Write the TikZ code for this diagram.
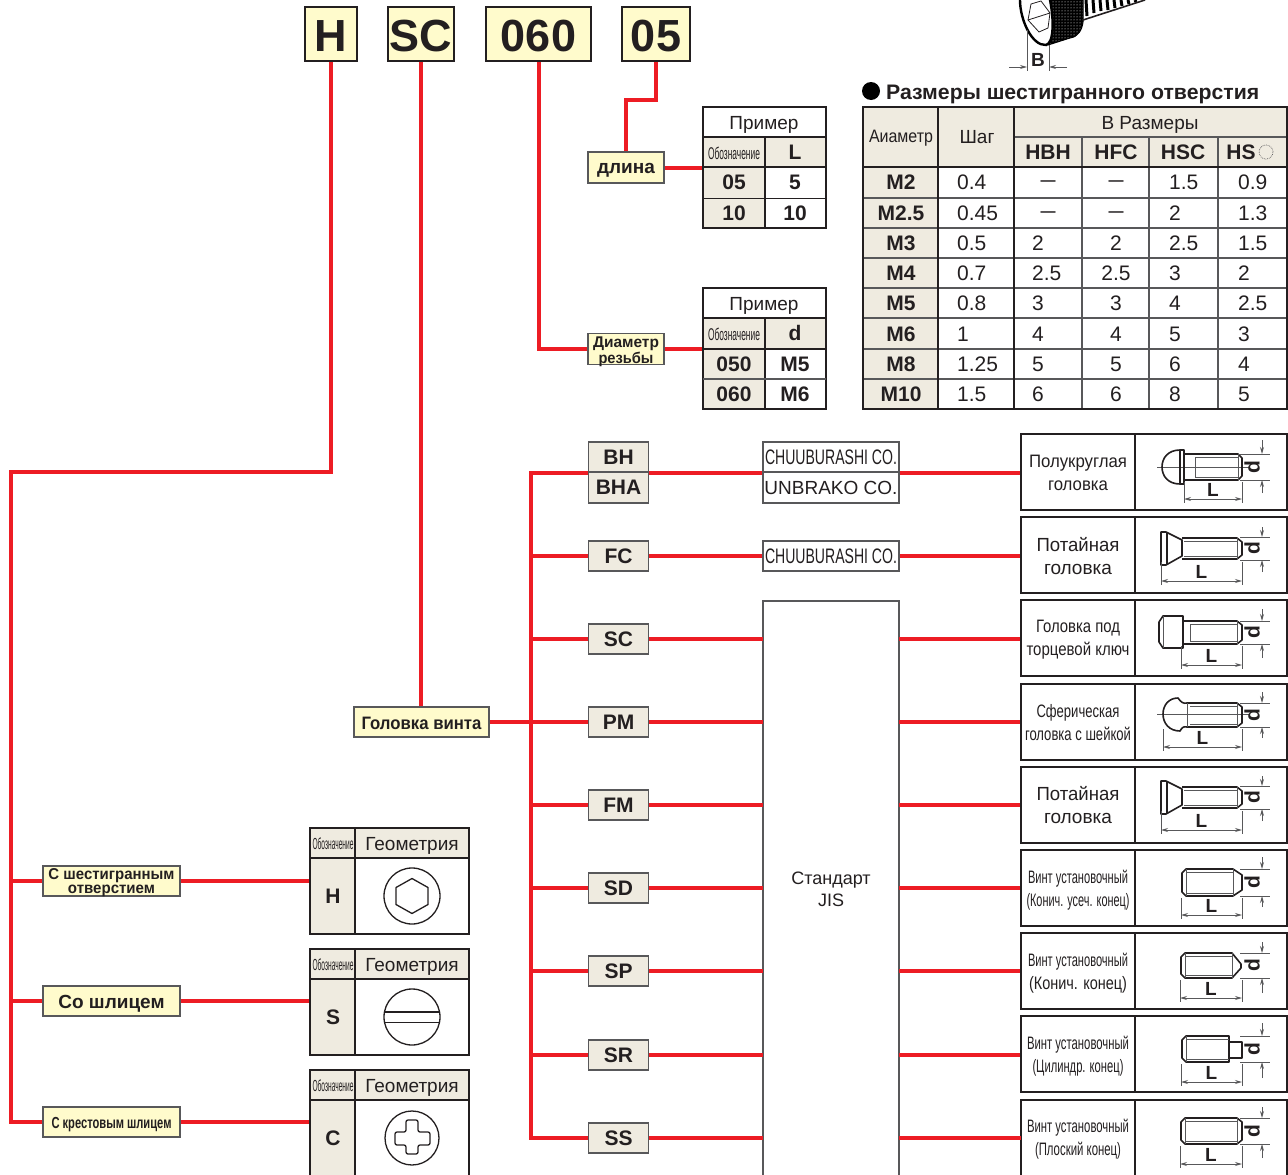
\documentclass[tikz,border=0pt]{standalone}
\usepackage{fontspec}
\setmainfont{Liberation Sans}
\usetikzlibrary{arrows.meta,patterns}
\definecolor{wirered}{HTML}{ED1C24}
\definecolor{inkdark}{HTML}{231F20}
\definecolor{beige}{HTML}{EFEBE0}
\definecolor{paleyellow}{HTML}{FFFBCC}
\definecolor{framegray}{HTML}{58585A}
\newcommand{\fitw}[2]{\resizebox{#1pt}{\height}{#2}}
\newcommand{\sizefont}[2]{\fontsize{#1}{#2}\selectfont}
\newcommand{\lowered}[2]{\raisebox{-#1pt}[\height][\depth]{#2}}
\tikzset{
	wire/.style={line width=4pt,color=wirered},
	heavy/.style={line width=2.6pt,color=inkdark},
	medium/.style={line width=1.6pt,color=framegray},
	fine/.style={line width=1pt,color=inkdark},
	topbox/.style={draw=inkdark,line width=2.4pt,fill=paleyellow,inner sep=0pt,text=inkdark,font=\sizefont{45}{50}\bfseries},
	labelbox/.style={draw=framegray,line width=1.6pt,fill=paleyellow,inner sep=0pt,align=center,text=inkdark},
	codebox/.style={draw=framegray,line width=1.6pt,fill=beige,inner sep=0pt,minimum width=60pt,minimum height=30pt,text=inkdark,font=\sizefont{21}{24}\bfseries},
	makerbox/.style={draw=framegray,line width=1.3pt,fill=white,inner sep=0pt,minimum width=136pt,minimum height=30pt,text=inkdark},
	cellbold/.style={inner sep=0pt,text=inkdark,font=\sizefont{21}{24}\bfseries},
	cellplain/.style={inner sep=0pt,text=inkdark,font=\sizefont{21}{24}},
	cellnum/.style={cellplain,anchor=west},
	celldash/.style={inner sep=0pt,text=inkdark,font=\sizefont{15}{18}\bfseries},
	cellhead/.style={inner sep=0pt,text=inkdark,font=\sizefont{19}{22}},
	desctext/.style={inner sep=0pt,align=center,text=inkdark,font=\sizefont{18}{23}},
	descframe/.style={draw=inkdark,line width=2.2pt,inner sep=0pt,minimum width=114pt,minimum height=76pt},
	iconframe/.style={draw=inkdark,line width=2.2pt,inner sep=0pt,minimum width=152pt,minimum height=76pt},
	screw/.style={line width=1.6pt,color=inkdark,line join=round},
	thread/.style={line width=.6pt,color=framegray},
	dimline/.style={line width=.9pt,color=framegray},
	dimmark/.style={inner sep=0pt,text=inkdark,font=\sizefont{19}{22}\bfseries},
}
\newcommand{\dimmarks}[7]{%
	\draw [dimline] (1240,#3) -- (1270,#3) (1240,#4) -- (1270,#4);
	\draw [dimline,-{Stealth[length=7pt,width=4pt]}] (1262,#5) -- (1262,#3);
	\draw [dimline,-{Stealth[length=7pt,width=4pt]}] (1262,#6) -- (1262,#4);
	\draw [dimline] (#2,#4+2) -- (#2,#7+4) (1242,#4+2) -- (1242,#7+4);
	\draw [dimline,{Stealth[length=7pt,width=4pt]}-{Stealth[length=7pt,width=4pt]}] (#2,#7) -- (1242,#7);
	\node [dimmark] (#1L) at ({(#2+1242)/2},#7-9) {L};
	\node [dimmark,rotate=90,font=\sizefont{21}{24}\bfseries] (#1d) at (1252,{(#3+#4)/2}) {d};
}
\newcommand{\flatscrew}[2]{%
	\begin{scope}[shift={(0,#2)}]
		\draw [screw] (1161,532) -- (1166,532) -- (1182,540) -- (1182,556) -- (1166,565) -- (1161,565) -- cycle;
		\draw [screw] (1167,533) -- (1167,564);
		\draw [screw] (1182,538) -- (1237,538) -- (1242,542) -- (1242,555) -- (1237,559) -- (1182,559);
		\draw [thread] (1184,541) -- (1237,541) (1184,556) -- (1237,556) (1237,538) -- (1237,559);
		\dimmarks{#1}{1161}{537}{560}{527}{572}{581}
	\end{scope}
}
\begin{document}
\begin{tikzpicture}[x=1pt,y=-1pt]
	\useasboundingbox (0,0) rectangle (1288,1175);

	% code letters on top
	\node [topbox,minimum width=52pt,minimum height=54pt] (boxH) at (331,34) {\lowered{2}{H}};
	\node [topbox,minimum width=66pt,minimum height=54pt] (boxSC) at (421,34) {\lowered{2}{SC}};
	\node [topbox,minimum width=105pt,minimum height=54pt] (boxDia) at (538.5,34) {\lowered{2}{060}};
	\node [topbox,minimum width=68pt,minimum height=54pt] (boxLen) at (656,34) {\lowered{2}{05}};

	% yellow labels
	\node [labelbox,minimum width=76pt,minimum height=31pt,font=\sizefont{19}{22}\bfseries] (lenLabel) at (626,167.5) {\lowered{3}{длина}};
	\node [labelbox,minimum width=76pt,minimum height=31pt,font=\sizefont{15.5}{14.5}\bfseries] (diaLabel) at (626,349) {\fitw{66}{\lowered{3}{Диаметр}}\\\fitw{55}{\lowered{3}{резьбы}}};
	\node [labelbox,minimum width=135pt,minimum height=30pt,font=\sizefont{18}{21}\bfseries] (headLabel) at (421.5,722) {\fitw{120}{\lowered{1}{Головка винта}}};
	\node [labelbox,minimum width=137pt,minimum height=30pt,font=\sizefont{15.7}{14}\bfseries] (holeLabel) at (111.5,881) {\fitw{126}{\lowered{2}{С шестигранным}}\\\fitw{87}{\lowered{2}{отверстием}}};
	\node [labelbox,minimum width=137pt,minimum height=30pt,font=\sizefont{19}{22}\bfseries] (slotLabel) at (111.5,1001) {\lowered{3}{Со шлицем}};
	\node [labelbox,minimum width=137pt,minimum height=30pt,font=\sizefont{16}{19}\bfseries] (crossLabel) at (111.5,1122) {\lowered{3}{\fitw{120}{С крестовым шлицем}}};

	% head codes
	\node [codebox] (codeBH) at (618.5,457) {BH};
	\node [codebox,minimum height=31pt] (codeBHA) at (618.5,487.5) {BHA};
	\node [codebox] (codeFC) at (618.5,556) {FC};
	\node [codebox] (codeSC) at (618.5,639) {SC};
	\node [codebox] (codePM) at (618.5,722) {PM};
	\node [codebox] (codeFM) at (618.5,805) {FM};
	\node [codebox] (codeSD) at (618.5,888) {SD};
	\node [codebox] (codeSP) at (618.5,971) {SP};
	\node [codebox] (codeSR) at (618.5,1055) {SR};
	\node [codebox] (codeSS) at (618.5,1138) {SS};

	% makers and standard
	\node [makerbox,font=\sizefont{21}{24}] (makerChuA) at (831,457) {\fitw{132}{CHUUBURASHI CO.}};
	\node [makerbox,minimum height=31pt,font=\sizefont{19}{22}] (makerUnb) at (831,487.5) {UNBRAKO CO.};
	\node [makerbox,font=\sizefont{21}{24}] (makerChuB) at (831,556) {\fitw{132}{CHUUBURASHI CO.}};
	\coordinate (jisL) at (763,601);
	\coordinate (jisR) at (899,601);
	\draw [color=framegray,line width=1.3pt] (763,1175) -- (jisL) -- (jisR) -- (899,1175);
	\node [inner sep=0pt,align=center,text=inkdark,font=\sizefont{18}{22}] (jisText) at (831,889) {Стандарт\\JIS};

	% right column frames
	\node [descframe] (descBH) at (1078,472) {};
	\node [descframe] (descFC) at (1078,555) {};
	\node [descframe] (descSC) at (1078,638) {};
	\node [descframe] (descPM) at (1078,722) {};
	\node [descframe] (descFM) at (1078,805) {};
	\node [descframe] (descSD) at (1078,888) {};
	\node [descframe] (descSP) at (1078,971) {};
	\node [descframe] (descSR) at (1078,1054) {};
	\draw [heavy,line width=2.2pt] (1021,1175) |- (1135,1100) -- (1135,1175) (1135,1100) -| (1287,1175);
	\coordinate (descSS) at (1021,1138);
	\node [iconframe] (iconBH) at (1211,472) {};
	\node [iconframe] (iconFC) at (1211,555) {};
	\node [iconframe] (iconSC) at (1211,638) {};
	\node [iconframe] (iconPM) at (1211,722) {};
	\node [iconframe] (iconFM) at (1211,805) {};
	\node [iconframe] (iconSD) at (1211,888) {};
	\node [iconframe] (iconSP) at (1211,971) {};
	\node [iconframe] (iconSR) at (1211,1054) {};

	\node [desctext] (textBH) at (1078,473) {\fitw{98}{Полукруглая}\\\fitw{60}{головка}};
	\node [desctext,font=\sizefont{19}{23}] (textFC) at (1078,556) {\fitw{83}{Потайная}\\\fitw{68}{головка}};
	\node [desctext] (textSC) at (1078,640) {\fitw{84}{Головка под}\\\fitw{103}{торцевой ключ}};
	\node [desctext] (textPM) at (1078,723) {\fitw{83}{Сферическая}\\\fitw{106}{головка с шейкой}};
	\node [desctext,font=\sizefont{19}{23}] (textFM) at (1078,805) {\fitw{83}{Потайная}\\\fitw{68}{головка}};
	\node [desctext] (textSD) at (1078,890) {\fitw{100}{Винт установочный}\\\fitw{103}{(Конич. усеч. конец)}};
	\node [desctext] (textSP) at (1078,973) {\fitw{100}{Винт установочный}\\\fitw{98}{(Конич. конец)}};
	\node [desctext] (textSR) at (1078,1056) {\fitw{102}{Винт установочный}\\\fitw{91}{(Цилиндр. конец)}};
	\node [desctext] (textSS) at (1078,1139) {\fitw{102}{Винт установочный}\\\fitw{86}{(Плоский конец)}};

	% connectors
	\coordinate (leftTrunk) at (11,472);
	\draw [wire] (boxH.south) |- (leftTrunk) |- (crossLabel.west);
	\draw [wire] (holeLabel.west) -- (holeLabel.west -| leftTrunk);
	\draw [wire] (slotLabel.west) -- (slotLabel.west -| leftTrunk);
	\coordinate (holeTable) at (310,881);
	\coordinate (slotTable) at (310,1001);
	\coordinate (crossTable) at (310,1122);
	\draw [wire] (holeLabel.east) -- (holeTable);
	\draw [wire] (slotLabel.east) -- (slotTable);
	\draw [wire] (crossLabel.east) -- (crossTable);
	\draw [wire] (boxSC.south) -- (boxSC.south |- headLabel.north);
	\draw [wire] (boxDia.south) |- (diaLabel.west);
	\coordinate (lenBend) at (626,100);
	\draw [wire] (boxLen.south) |- (lenBend) -- (lenLabel.north);
	\coordinate (lenTable) at (703,167.5);
	\coordinate (diaTable) at (703,349);
	\draw [wire] (lenLabel.east) -- (lenTable);
	\draw [wire] (diaLabel.east) -- (diaTable);
	\coordinate (codeTrunk) at (531,472);
	\draw [wire] (codeBH.south west) -- (codeBH.south west -| codeTrunk) |- (codeSS.west);
	\draw [wire] (headLabel.east) -- (headLabel.east -| codeTrunk);
	\draw [wire] (codeFC.west) -- (codeFC.west -| codeTrunk);
	\draw [wire] (codeSC.west) -- (codeSC.west -| codeTrunk);
	\draw [wire] (codePM.west) -- (codePM.west -| codeTrunk);
	\draw [wire] (codeFM.west) -- (codeFM.west -| codeTrunk);
	\draw [wire] (codeSD.west) -- (codeSD.west -| codeTrunk);
	\draw [wire] (codeSP.west) -- (codeSP.west -| codeTrunk);
	\draw [wire] (codeSR.west) -- (codeSR.west -| codeTrunk);
	\draw [wire] (codeBH.south east) -- (codeBH.south east -| makerChuA.west);
	\draw [wire] (codeBH.south east -| makerChuA.east) -- (codeBH.south east -| descBH.west);
	\draw [wire] (codeFC.east) -- (makerChuB.west);
	\draw [wire] (makerChuB.east) -- (makerChuB.east -| descFC.west);
	\draw [wire] (codeSC.east) -- (codeSC.east -| jisL);
	\draw [wire] (codePM.east) -- (codePM.east -| jisL);
	\draw [wire] (codeFM.east) -- (codeFM.east -| jisL);
	\draw [wire] (codeSD.east) -- (codeSD.east -| jisL);
	\draw [wire] (codeSP.east) -- (codeSP.east -| jisL);
	\draw [wire] (codeSR.east) -- (codeSR.east -| jisL);
	\draw [wire] (codeSS.east) -- (codeSS.east -| jisL);
	\draw [wire] (codeSC.east -| jisR) -- (codeSC.east -| descSC.west);
	\draw [wire] (codePM.east -| jisR) -- (codePM.east -| descPM.west);
	\draw [wire] (codeFM.east -| jisR) -- (codeFM.east -| descFM.west);
	\draw [wire] (codeSD.east -| jisR) -- (codeSD.east -| descSD.west);
	\draw [wire] (codeSP.east -| jisR) -- (codeSP.east -| descSP.west);
	\draw [wire] (codeSR.east -| jisR) -- (codeSR.east -| descSR.west);
	\draw [wire] (codeSS.east -| jisR) -- (descSS);

	% length example
	\fill [beige] (703,137) rectangle (826,167) (703,167) rectangle (765,228);
	\draw [heavy] (703,107) rectangle (826,228) (703,137) -- (826,137) (703,167) -- (826,167) (765,137) -- (765,228);
	\draw [fine] (703,198) -- (826,198);
	\node [cellhead] (lenHead) at (764,125) {Пример};
	\node [cellhead,font=\sizefont{17}{20}] (lenMark) at (734,153) {\fitw{52}{Обозначение}};
	\node [cellbold] (lenSym) at (795,152) {L};
	\node [cellbold] (lenCodeA) at (734,182) {05};
	\node [cellbold] (lenValA) at (795,182) {5};
	\node [cellbold] (lenCodeB) at (734,213) {10};
	\node [cellbold] (lenValB) at (795,213) {10};

	% thread example
	\fill [beige] (703,318) rectangle (826,349) (703,349) rectangle (765,409);
	\draw [heavy] (703,288) rectangle (826,409) (703,318) -- (826,318) (703,349) -- (826,349) (765,318) -- (765,409);
	\draw [medium] (703,379) -- (826,379);
	\node [cellhead] (diaHead) at (764,306) {Пример};
	\node [cellhead,font=\sizefont{17}{20}] (diaMark) at (734,334) {\fitw{52}{Обозначение}};
	\node [cellbold] (diaSym) at (795,333) {d};
	\node [cellbold] (diaCodeA) at (734,364) {050};
	\node [cellbold] (diaValA) at (795,364) {M5};
	\node [cellbold] (diaCodeB) at (734,394) {060};
	\node [cellbold] (diaValB) at (795,394) {M6};

	% hexagon socket table
	\fill (871,91) circle (9pt);
	\node [inner sep=0pt,anchor=west,text=inkdark,font=\sizefont{21}{24}\bfseries] (sizeTitle) at (886,94) {\fitw{373}{Размеры шестигранного отверстия}};
	\fill [beige] (863,107) rectangle (1287,167) (863,167) rectangle (938,409);
	\draw [medium] (1014,137) -- (1287,137);
	\draw [medium] (863,198) -- (1287,198) (863,228) -- (1287,228) (863,258) -- (1287,258) (863,288) -- (1287,288) (863,318) -- (1287,318) (863,349) -- (1287,349) (863,379) -- (1287,379);
	\draw [medium,line width=1.3pt] (1082,137) -- (1082,409) (1149,137) -- (1149,409) (1218,137) -- (1218,409);
	\draw [heavy] (863,107) rectangle (1287,409) (938,107) -- (938,409) (1014,107) -- (1014,409) (863,167) -- (1287,167);
	\node [cellhead,font=\sizefont{18}{21}] (headDia) at (901,138) {\fitw{64}{Аиаметр}};
	\node [cellhead] (headPitch) at (977,137) {Шаг};
	\node [cellhead] (headB) at (1150,124.5) {В Размеры};
	\node [cellbold] (headHBH) at (1048,152) {HBH};
	\node [cellbold] (headHFC) at (1116,152) {HFC};
	\node [cellbold] (headHSC) at (1183,152) {HSC};
	\node [cellbold] (headHS) at (1241,152) {HS};
	\draw [line width=.7pt,color=framegray,densely dotted] (1266,152) circle (7pt);

	\node [cellbold] (sizeA) at (901,182) {M2}; \node [cellnum] (pitchA) at (957,182) {0.4}; \node [celldash] (hbhA) at (1048,183) {—}; \node [celldash] (hfcA) at (1116,183) {—}; \node [cellnum] (hscA) at (1169,182) {1.5}; \node [cellnum] (hsoA) at (1238,182) {0.9};
	\node [cellbold] (sizeB) at (901,213) {M2.5}; \node [cellnum] (pitchB) at (957,213) {0.45}; \node [celldash] (hbhB) at (1048,214) {—}; \node [celldash] (hfcB) at (1116,214) {—}; \node [cellnum] (hscB) at (1169,213) {2}; \node [cellnum] (hsoB) at (1238,213) {1.3};
	\node [cellbold] (sizeC) at (901,243) {M3}; \node [cellnum] (pitchC) at (957,243) {0.5}; \node [cellnum] (hbhC) at (1032,243) {2}; \node [cellplain] (hfcC) at (1116,243) {2}; \node [cellnum] (hscC) at (1169,243) {2.5}; \node [cellnum] (hsoC) at (1238,243) {1.5};
	\node [cellbold] (sizeD) at (901,273) {M4}; \node [cellnum] (pitchD) at (957,273) {0.7}; \node [cellnum] (hbhD) at (1032,273) {2.5}; \node [cellplain] (hfcD) at (1116,273) {2.5}; \node [cellnum] (hscD) at (1169,273) {3}; \node [cellnum] (hsoD) at (1238,273) {2};
	\node [cellbold] (sizeE) at (901,303) {M5}; \node [cellnum] (pitchE) at (957,303) {0.8}; \node [cellnum] (hbhE) at (1032,303) {3}; \node [cellplain] (hfcE) at (1116,303) {3}; \node [cellnum] (hscE) at (1169,303) {4}; \node [cellnum] (hsoE) at (1238,303) {2.5};
	\node [cellbold] (sizeF) at (901,334) {M6}; \node [cellnum] (pitchF) at (957,334) {1}; \node [cellnum] (hbhF) at (1032,334) {4}; \node [cellplain] (hfcF) at (1116,334) {4}; \node [cellnum] (hscF) at (1169,334) {5}; \node [cellnum] (hsoF) at (1238,334) {3};
	\node [cellbold] (sizeG) at (901,364) {M8}; \node [cellnum] (pitchG) at (957,364) {1.25}; \node [cellnum] (hbhG) at (1032,364) {5}; \node [cellplain] (hfcG) at (1116,364) {5}; \node [cellnum] (hscG) at (1169,364) {6}; \node [cellnum] (hsoG) at (1238,364) {4};
	\node [cellbold] (sizeH) at (901,394) {M10}; \node [cellnum] (pitchH) at (957,394) {1.5}; \node [cellnum] (hbhH) at (1032,394) {6}; \node [cellplain] (hfcH) at (1116,394) {6}; \node [cellnum] (hscH) at (1169,394) {8}; \node [cellnum] (hsoH) at (1238,394) {5};

	% screw tip tables
	\fill [beige] (310,828) rectangle (469,858) (310,858) rectangle (355,934);
	\draw [heavy] (310,828) rectangle (469,934) (310,858) -- (469,858) (355,828) -- (355,934);
	\node [cellhead,font=\sizefont{16}{19}] (holeMark) at (333,844) {\fitw{41}{Обозначение}};
	\node [cellhead] (holeGeo) at (412,845.5) {Геометрия};
	\node [cellbold] (holeCode) at (333,896) {H};
	\draw [screw,line width=1.3pt] (412,896) circle (28pt);
	\draw [screw,line width=1.3pt] (412,878.5) -- (428,887.5) -- (428,904.5) -- (412,913.5) -- (396,904.5) -- (396,887.5) -- cycle;

	\fill [beige] (310,949) rectangle (469,979) (310,979) rectangle (355,1055);
	\draw [heavy] (310,949) rectangle (469,1055) (310,979) -- (469,979) (355,949) -- (355,1055);
	\node [cellhead,font=\sizefont{16}{19}] (slotMark) at (333,965) {\fitw{41}{Обозначение}};
	\node [cellhead] (slotGeo) at (412,966.5) {Геометрия};
	\node [cellbold] (slotCode) at (333,1017) {S};
	\draw [screw,line width=1.3pt] (412,1017) circle (28pt);
	\draw [screw,line width=1.8pt] (385,1012) -- (439,1012);
	\draw [screw,line width=.9pt] (385,1022) -- (439,1022);

	\fill [beige] (310,1070) rectangle (469,1100) (310,1100) rectangle (355,1175);
	\draw [heavy] (310,1175) -- (310,1070) -- (469,1070) -- (469,1175) (310,1100) -- (469,1100) (355,1070) -- (355,1175);
	\node [cellhead,font=\sizefont{16}{19}] (crossMark) at (333,1086) {\fitw{41}{Обозначение}};
	\node [cellhead] (crossGeo) at (412,1087.5) {Геометрия};
	\node [cellbold] (crossCode) at (333,1138) {C};
	\draw [screw,line width=1.3pt] (412,1138) circle (27pt);
	\draw [screw,line width=1.3pt,rounded corners=2pt] (406,1120) -- (418,1120) -- (418,1132) -- (430,1132) -- (430,1145) -- (418,1145) -- (418,1154) -- (406,1154) -- (406,1145) -- (395,1145) -- (395,1132) -- (406,1132) -- cycle;

	% pan head
	\draw [thread] (1157,467) -- (1250,467);
	\draw [screw] (1180,450) .. controls (1168,450) and (1162,458) .. (1162,467) .. controls (1162,476) and (1168,484) .. (1180,484) -- (1184,484) -- (1184,450) -- cycle;
	\draw [screw] (1180,450) -- (1180,484);
	\draw [screw] (1184,454) -- (1238,454) -- (1242,458) -- (1242,476) -- (1238,480) -- (1184,480);
	\draw [thread] (1195,457) -- (1238,457) (1195,477) -- (1238,477) (1238,454) -- (1238,480) (1195,457) -- (1195,477);
	\dimmarks{pan}{1184}{454}{480}{440}{493}{499}

	% flat heads
	\flatscrew{flatA}{0}
	\flatscrew{flatB}{249}

	% socket head
	\draw [screw] (1183,616) -- (1163,616) -- (1159,622) -- (1159,642) -- (1163,648) -- (1183,648) -- cycle;
	\draw [screw] (1183,621) -- (1237,621) -- (1242,625) -- (1242,640) -- (1237,644) -- (1183,644);
	\draw [thread] (1190,624) -- (1237,624) (1190,641) -- (1237,641) (1237,621) -- (1237,644) (1190,624) -- (1190,641) (1163,616) -- (1163,648);
	\dimmarks{socket}{1181}{621}{644}{609}{658}{665}

	% necked pan head
	\draw [thread] (1157,714) -- (1250,714);
	\draw [screw] (1178,698) .. controls (1169,698) and (1163,705) .. (1163,714) .. controls (1163,723) and (1169,731) .. (1180,731) .. controls (1182,728) and (1183,726) .. (1187,727) -- (1237,727) -- (1242,723) -- (1242,707) -- (1237,703) -- (1187,703) .. controls (1183,704) and (1181,702) .. (1178,698) -- cycle;
	\draw [thread] (1187,703) -- (1187,727) (1190,706) -- (1237,706) (1190,724) -- (1237,724) (1237,703) -- (1237,727);
	\dimmarks{neck}{1163}{703}{727}{692}{738}{747}

	% truncated cone point
	\draw [screw] (1186,869) -- (1233,869) -- (1242,875) -- (1242,890) -- (1233,896) -- (1186,896) -- (1182,892) -- (1182,873) -- cycle;
	\draw [thread] (1186,869) -- (1186,896) (1186,872) -- (1233,872) (1186,893) -- (1233,893) (1233,869) -- (1233,896);
	\dimmarks{trunc}{1181}{869}{896}{857}{907}{915}

	% cone point
	\draw [screw] (1185,953) -- (1232,953) -- (1241,964) -- (1241,968) -- (1232,978) -- (1185,978) -- (1181,974) -- (1181,957) -- cycle;
	\draw [thread] (1185,953) -- (1185,978) (1185,956) -- (1232,956) (1185,975) -- (1232,975) (1232,953) -- (1232,978);
	\dimmarks{cone}{1180}{953}{978}{942}{993}{998}

	% dog point
	\draw [screw] (1186,1036) -- (1229,1036) -- (1229,1062) -- (1186,1062) -- (1182,1058) -- (1182,1040) -- cycle;
	\draw [screw] (1229,1042) -- (1242,1042) -- (1242,1058) -- (1229,1058);
	\draw [thread] (1186,1036) -- (1186,1062) (1186,1039) -- (1229,1039) (1186,1059) -- (1229,1059);
	\dimmarks{dog}{1181}{1036}{1062}{1023}{1078}{1082}

	% flat point
	\draw [screw] (1185,1118) -- (1237,1118) -- (1242,1122) -- (1242,1140) -- (1237,1144) -- (1185,1144) -- (1181,1140) -- (1181,1122) -- cycle;
	\draw [thread] (1185,1118) -- (1185,1144) (1237,1118) -- (1237,1144) (1185,1121) -- (1237,1121) (1185,1141) -- (1237,1141);
	\dimmarks{plain}{1180}{1118}{1144}{1107}{1158}{1164}

	% screw at the top
	\draw [preaction={fill=black},pattern=dots,pattern color=white,draw=black,line width=1pt] (1044,0) -- (1083,0) -- (1083,22) .. controls (1082,30) and (1078,37) .. (1070,38) -- (1048,45) -- cycle;
	\draw [line width=3pt,color=black] (1086,0) -- (1087,16) (1093,0) -- (1094,13) (1100,0) -- (1101,11) (1107,0) -- (1108,10) (1114,0) -- (1115,8) (1121,0) -- (1122,6) (1128,0) -- (1129,4) (1135,0) -- (1136,2);
	\draw [screw] (1083,20) -- (1145,0);
	\fill [white] (1020,0) .. controls (1020,20) and (1032,46) .. (1046,45) .. controls (1054,43) and (1054,20) .. (1050,0) -- cycle;
	\draw [line width=2.4pt,color=black] (1020,0) .. controls (1020,20) and (1032,46) .. (1046,45) .. controls (1054,43) and (1054,20) .. (1050,0);
	\draw [thread,line width=.8pt,color=inkdark] (1031,4) -- (1041,1) -- (1050,13) -- (1048,28) -- (1039,32) -- (1028,20) -- cycle (1028,20) -- (1050,13);
	\draw [dimline] (1027,30) -- (1027,71) (1049,45) -- (1049,71);
	\draw [dimline,-{Stealth[length=7pt,width=4pt]}] (1009,67) -- (1027,67);
	\draw [dimline,-{Stealth[length=7pt,width=4pt]}] (1067,67) -- (1049,67);
	\node [dimmark] (sizeMarkB) at (1038,59.5) {B};
\end{tikzpicture}
\end{document}
